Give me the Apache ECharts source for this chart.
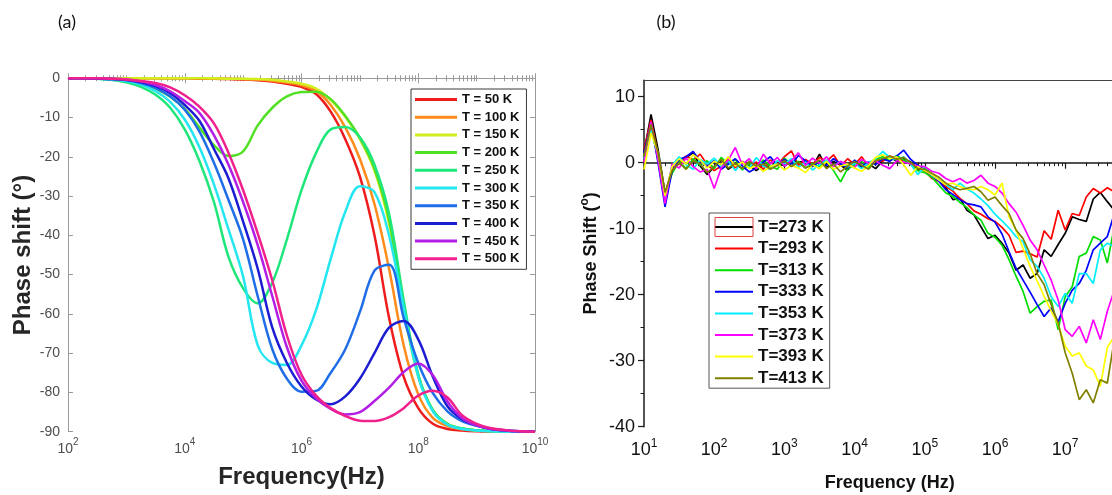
<!DOCTYPE html>
<html><head><meta charset="utf-8">
<script src="https://cdn.jsdelivr.net/npm/echarts@6/dist/echarts.min.js"></script>
<style>html,body{margin:0;padding:0;background:#fff}#c{width:1112px;height:495px}</style>
</head><body><div id="c"></div>
<script>
// ---------- Panel (a): simulated phase shift ----------
const logFreqA = [2,2.25,2.5,2.75,3,3.25,3.5,3.75,4,4.25,4.5,4.75,5,5.25,5.5,5.75,6,6.25,6.5,6.75,7,7.25,7.5,7.75,8,8.25,8.5,8.75,9,9.25,9.5,9.75,10];
const tempsA = ['T = 50 K','T = 100 K','T = 150 K','T = 200 K','T = 250 K','T = 300 K','T = 350 K','T = 400 K','T = 450 K','T = 500 K'];
const phaseA50  = [0,0,0,0,0,0,0,0,0,-0.1,-0.1,-0.2,-0.3,-0.5,-0.8,-1.4,-2.2,-4.0,-8.5,-15.5,-25,-40,-61,-76,-84,-88,-89.3,-89.7,-89.9,-90,-90,-90,-90];
const phaseA100 = [0,0,0,0,0,0,0,0,0,0,-0.1,-0.1,-0.2,-0.3,-0.6,-1.1,-1.8,-3.2,-6.8,-12.5,-20.5,-32,-48.5,-68,-80.5,-86.5,-88.6,-89.4,-89.7,-89.9,-90,-90,-90];
const phaseA150 = [0,0,0,0,0,0,0,0,0,0,0,-0.1,-0.1,-0.2,-0.4,-0.8,-1.4,-2.6,-5.5,-9.8,-15.5,-23.5,-37,-59,-76,-84.5,-88,-89.2,-89.6,-89.8,-89.9,-90,-90];
const phaseA200 = [0,0,-0.1,-0.3,-0.6,-1.3,-2.6,-4.7,-7.8,-12.5,-17,-19.8,-18.6,-12,-7.5,-4.6,-3.5,-3.4,-5.3,-9.6,-15.2,-23,-36,-58,-75.5,-84.5,-88,-89.2,-89.6,-89.8,-89.9,-90,-90];
const phaseA250 = [0,0,-0.1,-0.4,-1.0,-2.2,-4.2,-7.5,-13,-21,-31.5,-45.5,-53.5,-57.3,-52,-41,-28.5,-19,-13,-12.4,-15,-22,-34.5,-56.5,-75.5,-84.6,-88.1,-89.2,-89.6,-89.8,-89.9,-90,-90];
const phaseA300 = [0,0,-0.1,-0.3,-0.7,-1.6,-3.3,-6,-10.5,-17.5,-27,-38.5,-50.5,-68,-72.5,-73,-68,-59,-46,-34,-27.5,-29,-40,-58.5,-76,-84.8,-88.2,-89.3,-89.7,-89.9,-90,-90,-90];
const phaseA350 = [0,0,-0.1,-0.2,-0.5,-1.2,-2.5,-4.6,-8,-13.5,-21.5,-31,-41,-55.5,-69,-76.5,-79.8,-79.6,-75,-69,-59.5,-49,-47.5,-61,-72.5,-80.2,-84.8,-87.3,-88.5,-89.3,-89.7,-89.9,-90];
const phaseA400 = [0,0,-0.1,-0.2,-0.4,-1.0,-2.0,-3.8,-6.8,-10.8,-18,-25.5,-36.5,-48.5,-63.5,-72.5,-78.5,-81.8,-83,-81,-76.5,-70,-63.5,-61.8,-66.5,-76,-83.5,-86.8,-88.4,-89.3,-89.7,-89.9,-90];
const phaseA450 = [0,0,0,-0.1,-0.3,-0.8,-1.7,-3.3,-5.8,-8.8,-14.5,-22,-31.5,-42.5,-55.5,-68.5,-77,-81.5,-84.2,-85.6,-85,-82.2,-78.8,-74.8,-72.6,-75.6,-82.3,-86.5,-88.4,-89.3,-89.7,-89.9,-90];
const phaseA500 = [0,0,0,-0.1,-0.3,-0.7,-1.2,-2.3,-4.3,-7.2,-11.5,-19,-28.5,-39.5,-51.5,-65.5,-75.5,-80.8,-84,-86,-87.2,-87.3,-86.3,-84,-80.8,-79.6,-81.3,-85.8,-88,-89.1,-89.6,-89.9,-90];

// ---------- Panel (b): measured phase shift ----------
const logFreqB = [1.0,1.1,1.2,1.3,1.4,1.5,1.6,1.7,1.8,1.9,2.0,2.1,2.2,2.3,2.4,2.5,2.6,2.7,2.8,2.9,3.0,3.1,3.2,3.3,3.4,3.5,3.6,3.7,3.8,3.9,4.0,4.1,4.2,4.3,4.4,4.5,4.6,4.7,4.8,4.9,5.0,5.1,5.2,5.3,5.4,5.5,5.6,5.7,5.8,5.9,6.0,6.1,6.2,6.3,6.4,6.5,6.6,6.7,6.8,6.9,7.0,7.1,7.2,7.3,7.4,7.5,7.6,7.7,7.8,7.9,8.0];
const tempsB = ['T=273 K','T=293 K','T=313 K','T=333 K','T=353 K','T=373 K','T=393 K','T=413 K'];
const phaseB273 = [1.5,7.3,2.0,-4.6,-1.5,0.3,0.8,1.5,-0.5,-1.8, -0.6,0.4,-1.0,-0.2,-0.9,-0.4,-1.2,-0.3,-0.7,0.2, -0.5,0.3,0.1,0.2,-0.6,1.3,-0.8,0.2,-0.4,-1.1, 0.1,-0.7,-0.2,-0.9,0.3,0.9,0.2,0.6,0.1,-1.0, -0.8,-1.8,-2.6,-3.8,-5.6,-5.4,-7.2,-7.9,-9.7,-11.5, -11.0,-12.2,-13.7,-16.3,-15.5,-17.5,-16.8,-13.2,-14.2,-12.4, -10.7,-8.2,-8.6,-8.9,-5.5,-4.5,-5.9,-7.2,-6.5,-7.5, -8.0];
const phaseB293 = [2.0,6.5,1.2,-4.8,-0.8,-0.2,1.0,0.4,1.3,-0.3, -1.2,-0.5,0.6,-0.8,0.2,-0.6,0.1,-1.0,0.4,-0.3, 0.9,1.8,-0.4,0.5,-0.2,0.8,0.2,1.2,-0.5,0.6, -0.3,0.9,-0.6,0.4,0.2,1.0,0.7,0.3,-0.1,-0.8, -1.2,-2.4,-2.8,-3.6,-4.3,-5.4,-6.2,-7.3,-7.8,-8.5, -8.9,-9.8,-11.0,-13.6,-13.4,-13.8,-14.3,-10.3,-11.6,-7.2, -10.2,-7.7,-8.0,-5.2,-3.9,-4.6,-3.8,-4.4,-5.0,-5.8, -6.5];
const phaseB313 = [1.0,5.5,0.5,-5.2,-1.6,0.2,-0.9,0.6,-0.4,0.3, -0.9,0.8,-0.3,0.5,-1.1,-0.2,-0.7,0.4,-0.5,-1.0, 0.7,-0.3,0.2,-0.8,-0.1,-0.6,0.3,-1.2,-2.9,-0.9, -0.4,0.2,-0.7,0.5,0.9,0.3,1.1,0.4,-0.3,-1.2, -1.5,-2.2,-3.4,-4.6,-5.1,-6.0,-6.8,-7.9,-8.7,-10.7, -11.3,-12.5,-14.7,-17.2,-19.5,-22.8,-21.8,-21.0,-20.8,-25.3, -20.3,-18.8,-14.2,-13.7,-11.2,-11.7,-15.2,-9.7,-8.8,-9.5, -10];
const phaseB333 = [1.5,6.0,0.0,-6.7,-1.2,0.5,0.9,1.7,0.2,-0.6, 0.3,-1.0,-0.2,0.6,-0.5,-1.4,-0.8,0.1,0.9,-0.4, 0.5,-0.3,1.1,0.3,-0.6,0.2,-0.4,0.6,-0.2,-0.8, 0.4,-0.5,0.1,-0.3,0.6,0.2,1.0,1.9,0.5,-0.4, -1.1,-1.9,-2.8,-4.1,-4.8,-5.6,-6.2,-6.4,-6.7,-8.2, -9.0,-10.8,-13.5,-16.0,-17.8,-19.6,-21.5,-23.3,-22.0,-24.1, -21.3,-19.3,-18.3,-16.3,-13.2,-12.2,-11.2,-7.7,-7.0,-7.5, -8];
const phaseB353 = [0.5,5.0,1.0,-5.5,-0.4,0.9,-0.3,-1.0,0.5,-0.2, 0.7,-0.6,0.3,-1.2,0.1,-0.8,0.8,-0.5,-1.0,0.3, -0.2,0.6,-0.7,0.1,-1.1,-0.3,0.4,-0.5,0.2,-0.6, -0.1,-0.9,0.0,0.6,1.7,0.8,0.4,0.9,-0.2,-1.8, -0.6,-1.9,-2.6,-3.3,-4.1,-3.1,-4.0,-4.6,-5.5,-6.5, -7.8,-8.8,-9.9,-11.2,-12.0,-14.7,-15.7,-17.5,-20.3,-21.8, -19.8,-21.3,-16.8,-16.8,-18.3,-13.2,-12.2,-12.7,-11.5,-12, -12.5];
const phaseB373 = [0.0,6.2,0.5,-6.2,-0.2,-0.8,0.7,-0.6,-1.4,-1.0, -3.9,-0.8,0.4,2.3,-0.3,0.6,-0.9,1.3,-0.2,0.8, -0.5,0.3,1.5,-0.4,0.7,-0.1,0.9,-0.6,0.2,-0.3, -0.7,0.5,-0.1,0.3,-0.4,-0.9,0.3,0.1,-0.2,-0.5, -0.6,-1.3,-1.6,-2.4,-2.9,-2.4,-3.1,-2.7,-1.9,-3.1, -3.6,-4.6,-6.2,-7.5,-9.5,-11.7,-13.2,-15.5,-17.8,-20.8, -25.3,-26.3,-24.8,-27.3,-23.8,-26.8,-22.5,-19.3,-19.5,-19, -19];
const phaseB393 = [-1.0,4.5,1.5,-5.0,-0.6,0.6,-0.2,1.2,0.4,-0.8, 0.2,-0.3,0.9,-0.5,0.1,-0.9,-0.4,-1.3,-0.6,-0.2, -1.1,-0.4,-0.8,-1.5,-0.3,-0.9,0.2,-1.0,-0.5,-0.2, -0.8,-1.3,-0.4,0.8,1.2,0.6,0.9,-0.3,-1.9,-0.6, -1.2,-1.8,-2.6,-3.3,-3.1,-3.6,-4.0,-4.1,-3.6,-4.1, -4.9,-3.1,-8.2,-10.2,-13.0,-15.7,-17.9,-20.2,-22.5,-24.5, -27.8,-29.3,-28.8,-30.8,-31.4,-33.9,-28.0,-26.3,-25.5,-25, -25];
const phaseB413 = [1.0,5.8,1.5,-4.5,-1.2,0.0,-1.0,0.3,-0.2,-1.5, -0.6,0.5,-0.8,-0.1,-0.9,0.2,-0.5,-0.2,-1.0,-0.4, 0.3,-0.6,0.1,-0.8,-0.3,0.4,-0.9,-0.2,-1.4,-0.5, 0.2,-0.4,-1.0,0.3,0.6,1.0,0.5,0.8,0.0,-0.9, -1.0,-1.6,-2.2,-3.1,-3.7,-4.1,-3.9,-3.6,-4.4,-5.7, -5.2,-6.5,-7.7,-10.2,-11.5,-13.8,-16.8,-18.5,-21.5,-24.3, -28.8,-31.9,-35.9,-34.4,-36.4,-32.9,-33.4,-26.8,-27,-26, -25];
const yTicksB = [10,0,-10,-20,-30,-40];
const yMinorB = [5,-5,-15,-25,-35];

// ---------- styles ----------
const colorsA = ['#ee1c1c','#ff8c1a','#d2ee1e','#52e024','#1ee67a','#24e6f0','#1f6ee8','#1c1cd2','#b21ee6','#f0208c'];
const colorsB = ['#000000','#ff0000','#00dd00','#0000ff','#00eeff','#ff00ff','#ffff00','#808000'];
const FF = '"Liberation Sans", Arial, Helvetica, sans-serif';
const GRAYA = '#9a9a9a';

function decades(a, b) { const r = []; for (let d = a; d <= b; d++) r.push(Math.pow(10, d)); return r; }
function minors(a, b, withDecades) {
  const r = [];
  for (let d = a; d <= b; d++) {
    if (withDecades && withDecades.indexOf(d) >= 0) r.push(Math.pow(10, d));
    for (let k = 2; k <= 9; k++) r.push(k * Math.pow(10, d));
  }
  return r;
}
const supFmt = v => '{b|10}{s|' + Math.round(Math.log10(v)) + '}';

const majorA = [1e2, 1e4, 1e6, 1e8, 1e10];
const minorA = minors(2, 9, [3, 5, 7, 9]);
const majorB = decades(1, 8);
const minorB = minors(1, 7);

const seriesA = [phaseA50, phaseA100, phaseA150, phaseA200, phaseA250, phaseA300, phaseA350, phaseA400, phaseA450, phaseA500].map((vals, i) => ({
  name: tempsA[i], type: 'line', xAxisIndex: 0, yAxisIndex: 0,
  symbol: 'none', showSymbol: false, smooth: 0.35,
  data: logFreqA.map((l, j) => [Math.pow(10, l), vals[j]]),
  lineStyle: { color: colorsA[i], width: 2.5 }, itemStyle: { color: colorsA[i] }
}));
const seriesB = [phaseB273, phaseB293, phaseB313, phaseB333, phaseB353, phaseB373, phaseB393, phaseB413].map((vals, i) => ({
  name: tempsB[i], type: 'line', xAxisIndex: 4, yAxisIndex: 2,
  symbol: 'none', showSymbol: false,
  data: logFreqB.map((l, j) => [Math.pow(10, l), vals[j]]),
  lineStyle: { color: colorsB[i], width: 1.7 }, itemStyle: { color: colorsB[i] }
}));

const chart = echarts.init(document.getElementById('c'), null, { width: 1112, height: 495 });
const hidden = { show: false };
chart.setOption({
  animation: false,
  backgroundColor: '#ffffff',
  grid: [
    { left: 68, top: 78.3, width: 467, height: 353.4, outerBoundsMode: 'none', containLabel: false },
    { left: 644, top: 80.2, width: 491.4, height: 346.5, outerBoundsMode: 'none', containLabel: false }
  ],
  xAxis: [
    { gridIndex: 0, type: 'log', position: 'bottom', min: 1e2, max: 1e10,
      axisLine: { show: true, lineStyle: { color: GRAYA, width: 1 } },
      axisTick: { show: true, inside: true, length: 5, customValues: majorA, lineStyle: { color: GRAYA } },
      axisLabel: { customValues: majorA, formatter: supFmt, margin: 6, fontFamily: FF,
        rich: { b: { fontSize: 14, color: '#4d4d4d', fontFamily: FF, verticalAlign: 'bottom' },
                s: { fontSize: 10, color: '#4d4d4d', fontFamily: FF, verticalAlign: 'bottom', padding: [0, 0, 8, 0] } } },
      splitLine: hidden, minorTick: hidden,
      name: 'Frequency(Hz)', nameLocation: 'middle', nameGap: 34,
      nameTextStyle: { fontSize: 24, fontWeight: 'bold', color: '#262626', fontFamily: FF } },
    { gridIndex: 0, type: 'log', position: 'bottom', min: 1e2, max: 1e10,
      axisLine: hidden, axisLabel: hidden, splitLine: hidden,
      axisTick: { show: true, inside: true, length: 3, customValues: minorA, lineStyle: { color: GRAYA } } },
    { gridIndex: 0, type: 'log', position: 'top', min: 1e2, max: 1e10,
      axisLine: { show: true, lineStyle: { color: GRAYA, width: 1 } }, axisLabel: hidden, splitLine: hidden,
      axisTick: { show: true, inside: true, length: 5, customValues: majorA, lineStyle: { color: GRAYA } } },
    { gridIndex: 0, type: 'log', position: 'top', min: 1e2, max: 1e10,
      axisLine: hidden, axisLabel: hidden, splitLine: hidden,
      axisTick: { show: true, inside: true, length: 3, customValues: minorA, lineStyle: { color: GRAYA } } },
    { gridIndex: 1, type: 'log', position: 'bottom', min: 1e1, max: 1e8,
      axisLine: { show: true, lineStyle: { color: '#1a1a1a', width: 1.5 } },
      axisTick: { show: true, inside: false, length: 6, customValues: majorB, lineStyle: { color: '#1a1a1a', width: 1.2 } },
      axisLabel: { customValues: majorB, formatter: supFmt, margin: 11, fontFamily: FF,
        rich: { b: { fontSize: 18, color: '#111', fontFamily: FF, verticalAlign: 'bottom' },
                s: { fontSize: 12, color: '#111', fontFamily: FF, verticalAlign: 'bottom', padding: [0, 0, 9, 0] } } },
      splitLine: hidden,
      name: 'Frequency (Hz)', nameLocation: 'middle', nameGap: 47,
      nameTextStyle: { fontSize: 18, fontWeight: 'bold', color: '#111', fontFamily: FF } },
    { gridIndex: 1, type: 'log', position: 'bottom', min: 1e1, max: 1e8,
      axisLine: hidden, axisLabel: hidden, splitLine: hidden,
      axisTick: { show: true, inside: false, length: 3.5, customValues: minorB, lineStyle: { color: '#1a1a1a', width: 1 } } },
    { gridIndex: 1, type: 'log', position: 'top', min: 1e1, max: 1e8,
      axisLine: { show: true, lineStyle: { color: '#444', width: 1.2 } }, axisLabel: hidden, axisTick: hidden, splitLine: hidden }
  ],
  yAxis: [
    { gridIndex: 0, type: 'value', position: 'left', min: -90, max: 0, interval: 10,
      axisLine: { show: true, lineStyle: { color: GRAYA, width: 1 } },
      axisTick: { show: true, inside: true, length: 5, lineStyle: { color: GRAYA } },
      axisLabel: { fontSize: 14, color: '#4d4d4d', fontFamily: FF, margin: 8 },
      splitLine: hidden,
      name: 'Phase shift (°)', nameLocation: 'middle', nameGap: 33,
      nameTextStyle: { fontSize: 24, fontWeight: 'bold', color: '#262626', fontFamily: FF } },
    { gridIndex: 0, type: 'value', position: 'right', min: -90, max: 0, interval: 10,
      axisLine: { show: true, lineStyle: { color: GRAYA, width: 1 } },
      axisTick: { show: true, inside: true, length: 5, lineStyle: { color: GRAYA } },
      axisLabel: hidden, splitLine: hidden },
    { gridIndex: 1, type: 'value', position: 'left', min: -40, max: 12.5,
      axisLine: { show: true, lineStyle: { color: '#1a1a1a', width: 1.5 } },
      axisTick: { show: true, inside: false, length: 6, customValues: yTicksB, lineStyle: { color: '#1a1a1a', width: 1.2 } },
      axisLabel: { customValues: yTicksB, fontSize: 18, color: '#111', fontFamily: FF, margin: 9 },
      splitLine: hidden,
      name: '{n|Phase Shift (}{s|o}{n|)}', nameLocation: 'middle', nameGap: 44,
      nameTextStyle: { fontFamily: FF, rich: {
        n: { fontSize: 18, fontWeight: 'bold', color: '#111', fontFamily: FF, verticalAlign: 'bottom' },
        s: { fontSize: 12, fontWeight: 'bold', color: '#111', fontFamily: FF, verticalAlign: 'bottom', padding: [0, 0, 9, 0] } } } },
    { gridIndex: 1, type: 'value', position: 'left', min: -40, max: 12.5,
      axisLine: hidden, axisLabel: hidden, splitLine: hidden,
      axisTick: { show: true, inside: false, length: 3.5, customValues: yMinorB, lineStyle: { color: '#1a1a1a', width: 1 } } }
  ],
  legend: [
    { data: tempsA, orient: 'vertical', left: 411, top: 89, padding: [3, 7, 3, 4], itemGap: 2.7,
      itemWidth: 42, itemHeight: 3, selectedMode: false, backgroundColor: '#fff',
      icon: 'path://M0 0H42V3H0Z',
      borderColor: '#3a3a3a', borderWidth: 1,
      textStyle: { fontFamily: FF, fontSize: 13, fontWeight: 'bold', color: '#111', lineHeight: 15 } },
    { data: tempsB, orient: 'vertical', left: 709, top: 213, padding: [5, 6, 1, 6], itemGap: 3.6,
      itemWidth: 38, itemHeight: 2, selectedMode: false, backgroundColor: '#fff',
      icon: 'path://M0 0H38V2H0Z',
      borderColor: '#555', borderWidth: 1,
      textStyle: { fontFamily: FF, fontSize: 17, fontWeight: 'bold', color: '#111', lineHeight: 18 } }
  ],
  graphic: [
    { type: 'text', x: 67, y: 22, z: 10, style: { text: '(a)', font: '18px Lato, "Open Sans", sans-serif', fill: '#111', textAlign: 'center', textVerticalAlign: 'middle' } },
    { type: 'text', x: 666, y: 22, z: 10, style: { text: '(b)', font: '18px Lato, "Open Sans", sans-serif', fill: '#111', textAlign: 'center', textVerticalAlign: 'middle' } },
    { type: 'rect', z: 100, shape: { x: 715, y: 217.5, width: 38, height: 19 }, style: { fill: 'none', stroke: '#e04040', lineWidth: 1 } }
  ],
  series: seriesA.concat(seriesB)
});
</script>
</body></html>
